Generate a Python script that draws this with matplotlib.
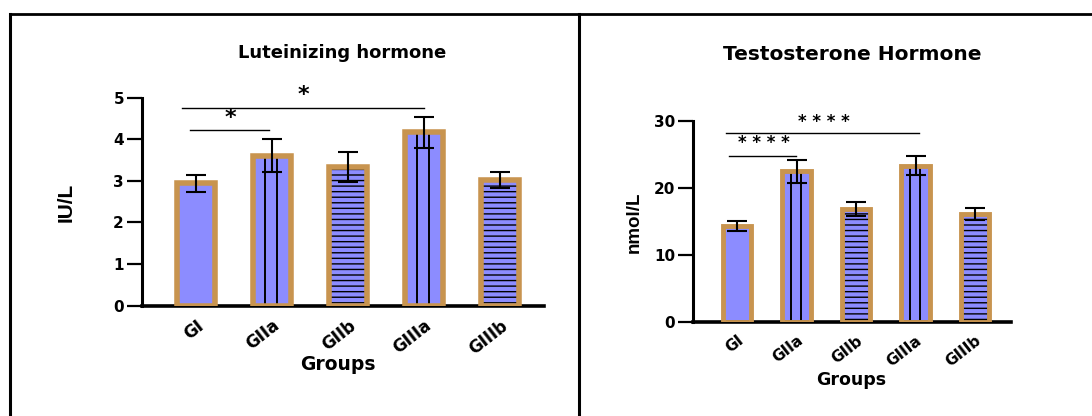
import matplotlib
matplotlib.use("Agg")
import matplotlib.pyplot as plt
from matplotlib.lines import Line2D
import numpy as np

groups = ["GI", "GIIa", "GIIb", "GIIIa", "GIIIb"]
patterns = ["", "|", "-", "|", "-"]

lh_mean = [2.94, 3.60, 3.33, 4.16, 3.02]
lh_err = [0.20, 0.40, 0.35, 0.37, 0.20]
# bracket: x start, x end, height, stars text, star x, star y
lh_brackets = [(-0.08, 0.96, 4.22, "*", 0.45, 4.51),
               (-0.19, 3.00, 4.75, "*", 1.42, 5.06)]

t_mean = [14.3, 22.5, 16.8, 23.3, 16.1]
t_err = [0.7, 1.7, 1.05, 1.4, 0.95]
t_brackets = [(-0.13, 0.99, 24.8, "* * * *", 0.45, 26.7),
              (-0.19, 3.06, 28.2, "* * * *", 1.46, 29.9)]

FILL = "#8c8cff"
EDGE = "#c8944f"


def draw_panel(ax, means, errs, brackets, yticks, width, edge_lw, star_size,
               xt_size):
    x = np.arange(len(groups))
    ax.bar(x, means, width=width, color=FILL, linewidth=0, zorder=2)
    for i, p in enumerate(patterns):
        if p == "-":
            ax.bar(x[i], means[i], width=width, color="none", edgecolor="black",
                   linewidth=0, hatch="---", zorder=3)
        elif p == "|":
            ax.vlines([x[i] - 0.09, x[i] + 0.07], 0, means[i], color="black",
                      linewidth=1.4, zorder=3)
    ax.bar(x, means, width=width, color="none", edgecolor=EDGE,
           linewidth=edge_lw, zorder=4)
    ax.errorbar(x, means, yerr=errs, fmt="none", ecolor="black",
                elinewidth=1.5, capsize=7, capthick=1.5, zorder=5)

    for x1, x2, h, txt, sx, sy in brackets:
        ax.plot([x1, x2], [h, h], color="black", linewidth=1.0, zorder=5,
                clip_on=False)
        ax.text(sx, sy, txt, ha="center", va="center", fontsize=star_size,
                fontweight="bold", clip_on=False)

    ax.set_yticks(yticks)
    ax.set_xticks(x)
    ax.set_xticklabels(groups, rotation=38, ha="right", rotation_mode="anchor",
                       fontweight="bold", fontsize=xt_size)
    for lab in ax.get_yticklabels():
        lab.set_fontweight("bold")
        lab.set_fontsize(11)
    ax.spines["top"].set_visible(False)
    ax.spines["right"].set_visible(False)
    ax.spines["left"].set_linewidth(2.2)
    ax.spines["bottom"].set_linewidth(2.6)
    ax.tick_params(axis="y", length=11, width=1.6, pad=2)
    ax.tick_params(axis="x", length=0, pad=8)


fig = plt.figure(figsize=(10.92, 4.16), dpi=100)

ax1 = fig.add_axes([142 / 1092, 110.5 / 416, 402 / 1092, 208 / 416])
draw_panel(ax1, lh_mean, lh_err, lh_brackets, [0, 1, 2, 3, 4, 5], 0.5, 4.0,
           16, 12)
ax1.set_xlim(-0.71, 4.58)
ax1.set_ylim(0, 5)

ax2 = fig.add_axes([693 / 1092, 94.3 / 416, 317.7 / 1092, 200.7 / 416])
draw_panel(ax2, t_mean, t_err, t_brackets, [0, 10, 20, 30], 0.48, 3.5,
           12, 11)
ax2.set_xlim(-0.74, 4.6)
ax2.set_ylim(0, 30)

fig.text(342 / 1092, 1 - 53 / 416, "Luteinizing hormone", ha="center",
         va="center", fontsize=13, fontweight="bold")
fig.text(852 / 1092, 1 - 55 / 416, "Testosterone Hormone", ha="center",
         va="center", fontsize=14.5, fontweight="bold")
fig.text(66 / 1092, 1 - 202 / 416, "IU/L", rotation=90, ha="center",
         va="center", fontsize=15, fontweight="bold", family="Liberation Sans")
fig.text(634 / 1092, 1 - 222 / 416, "nmol/L", rotation=90, ha="center",
         va="center", fontsize=13.5, fontweight="bold", family="Liberation Sans")
fig.text(338 / 1092, 1 - 365 / 416, "Groups", ha="center", va="center",
         fontsize=13.5, fontweight="bold")
fig.text(851 / 1092, 1 - 380 / 416, "Groups", ha="center", va="center",
         fontsize=12.5, fontweight="bold")

# panel frame
fig.add_artist(Line2D([10 / 1092, 10 / 1092], [0, 1 - 14 / 416],
                      color="black", linewidth=2.2))
fig.add_artist(Line2D([578.5 / 1092, 578.5 / 1092], [0, 1 - 14 / 416],
                      color="black", linewidth=2.2))
fig.add_artist(Line2D([10 / 1092, 1], [1 - 14 / 416, 1 - 14 / 416],
                      color="black", linewidth=2.0))

fig.savefig("out.png", dpi=100)
